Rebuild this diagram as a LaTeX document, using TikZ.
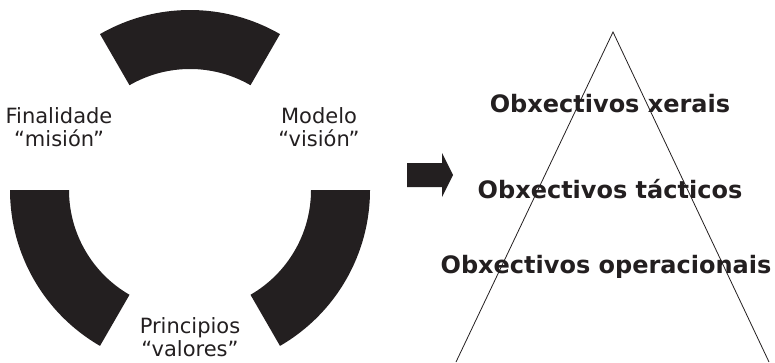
\documentclass[tikz,border=0pt]{standalone}
\usepackage{fontspec}
\setmainfont{DejaVu Sans}
\usetikzlibrary{calc}
\definecolor{ink}{RGB}{35,31,32}
\begin{document}
\begin{tikzpicture}[x=1pt,y=1pt,
  lbl/.style={font=\fontsize{21}{24}\selectfont, text=ink, inner sep=0pt, anchor=base},
  obj/.style={font=\fontsize{24}{28}\selectfont\bfseries, text=ink, inner sep=0pt, anchor=base},
  seg/.style={fill=ink}]
\useasboundingbox (0,0) rectangle (775,362);
\coordinate (c) at (190,172);
% three arc segments
\fill[seg] ($(c)+(60:180pt)$) arc[start angle=60,end angle=120,radius=180pt]
  -- ($(c)+(120:121pt)$) arc[start angle=120,end angle=60,radius=121pt] -- cycle;
\fill[seg] ($(c)+(180:180pt)$) arc[start angle=180,end angle=240,radius=180pt]
  -- ($(c)+(240:121pt)$) arc[start angle=240,end angle=180,radius=121pt] -- cycle;
\fill[seg] ($(c)+(300:180pt)$) arc[start angle=300,end angle=360,radius=180pt]
  -- ($(c)+(0:121pt)$) arc[start angle=0,end angle=-60,radius=121pt] -- cycle;
% labels
\node[lbl] (fin1) at (59,239) {Finalidade};
\node[lbl] (fin2) at (59,216) {“misión”};
\node[lbl] (mod1) at (319,239) {Modelo};
\node[lbl] (mod2) at (319,216) {“visión”};
\node[lbl] (pri1) at (190,29) {Principios};
\node[lbl] (pri2) at (190,6) {“valores”};
% block arrow
\fill[ink] (407,199) -- (442,199) -- (442,209) -- (453,187) -- (442,165) -- (442,175) -- (407,175) -- cycle;
% pyramid
\coordinate (apex) at (613,330);
\coordinate (bl) at (456,0);
\coordinate (br) at (769,0);
\draw[ink, line width=0.8pt] (bl) -- (apex) -- (br);
\node[obj] (o1) at (610,249) {Obxectivos xerais};
\node[obj] (o2) at (610,164) {Obxectivos tácticos};
\node[obj] (o3) at (606,89) {Obxectivos operacionais};
\end{tikzpicture}
\end{document}
